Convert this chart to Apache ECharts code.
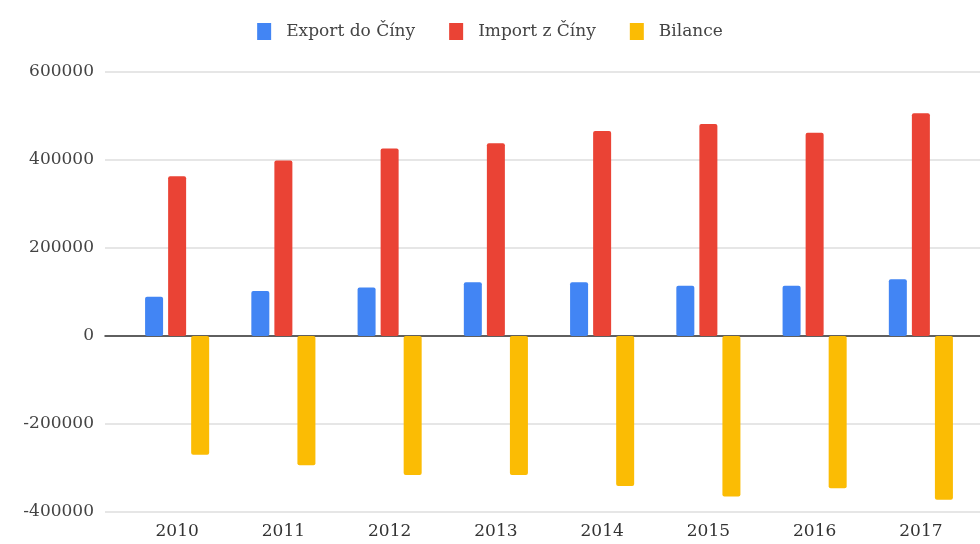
<!DOCTYPE html>
<html>
<head>
<meta charset="utf-8">
<script src="https://cdn.jsdelivr.net/npm/echarts@6/dist/echarts.min.js"></script>
<style>html,body{margin:0;padding:0;background:#fff}#c{width:980px;height:544px}</style>
</head>
<body>
<div id="c"></div>
<script>
const categories = ['2010','2011','2012','2013','2014','2015','2016','2017'];
const exportVals = [89000, 102000, 110000, 122000, 122000, 114000, 114000, 129000];
const importVals = [363000, 399000, 426000, 438000, 466000, 482000, 462000, 506000];
const bilanceVals = [-270000, -294000, -316000, -316000, -341000, -365000, -346000, -372000];
const yTicks = { min: -400000, max: 600000, interval: 200000 };

const chart = echarts.init(document.getElementById('c'));
const font = 'DejaVu Serif';
chart.setOption({
  animation: false,
  legend: {
    top: 18, left: 'center', itemWidth: 14, itemHeight: 17, itemGap: 34,
    icon: 'rect',
    textStyle: { fontFamily: font, fontSize: 17, color: '#444', padding: [0, 0, 0, 10] },
    data: ['Export do Číny', 'Import z Číny', 'Bilance']
  },
  grid: [
    { left: 124, right: 6, top: 72, bottom: 32 },
    { left: 105, right: 0, top: 72, bottom: 32 }
  ],
  xAxis: [
    { type: 'category', gridIndex: 0, data: categories,
      axisLine: { show: false }, axisTick: { show: false },
      axisLabel: { fontFamily: font, fontSize: 17, color: '#333', margin: 11 } },
    { type: 'value', gridIndex: 1, min: 0, max: 1,
      axisLine: { show: true, onZero: true, lineStyle: { color: '#333', width: 1.5 } },
      axisTick: { show: false }, axisLabel: { show: false }, splitLine: { show: false } }
  ],
  yAxis: [
    { type: 'value', gridIndex: 0, min: yTicks.min, max: yTicks.max, interval: yTicks.interval, show: false },
    { type: 'value', gridIndex: 1, min: yTicks.min, max: yTicks.max, interval: yTicks.interval,
      axisLine: { show: false }, axisTick: { show: false },
      axisLabel: { fontFamily: font, fontSize: 17, color: '#444', margin: 11,
        formatter: v => String(v) },
      splitLine: { lineStyle: { color: '#dedede', width: 1.5 } } }
  ],
  series: [
    { name: 'Export do Číny', type: 'bar', xAxisIndex: 0, yAxisIndex: 0, data: exportVals,
      barWidth: 18, barGap: '28%', itemStyle: { color: '#4285F4', borderRadius: 2 } },
    { name: 'Import z Číny', type: 'bar', xAxisIndex: 0, yAxisIndex: 0, data: importVals,
      barWidth: 18, barGap: '28%', itemStyle: { color: '#EA4335', borderRadius: 2 } },
    { name: 'Bilance', type: 'bar', xAxisIndex: 0, yAxisIndex: 0, data: bilanceVals,
      barWidth: 18, barGap: '28%', itemStyle: { color: '#FBBC04', borderRadius: 2 } }
  ]
});
</script>
</body>
</html>
